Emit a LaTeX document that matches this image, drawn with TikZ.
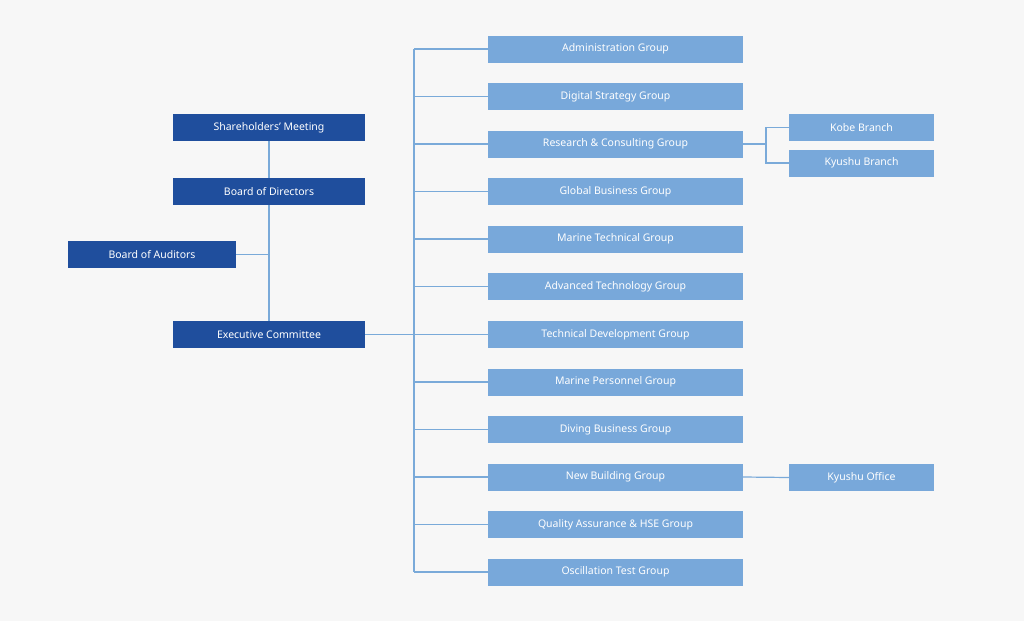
\documentclass[tikz,border=0pt]{standalone}
\usepackage{fontspec}
\setmainfont{Noto Sans}
\usetikzlibrary{positioning}
\definecolor{bgcol}{HTML}{F7F7F7}
\definecolor{darkbox}{HTML}{1F4E9D}
\definecolor{lightbox}{HTML}{78A8DA}
\definecolor{linecol}{HTML}{7AAAD9}
\begin{document}
\begin{tikzpicture}
[
x=1pt, y=-1pt,
head/.style={rectangle, fill=darkbox, text=white, font=\fontsize{10.5}{12}\selectfont\bfseries, minimum height=27pt, minimum width=192pt, inner sep=0pt},
unit/.style={rectangle, fill=lightbox, text=white, font=\fontsize{10.5}{12}\selectfont\bfseries, minimum height=27pt, minimum width=255pt, inner sep=0pt},
branch/.style={unit, minimum width=145pt},
link/.style={draw=linecol, line width=1.2pt},
]
\fill [bgcol] (0,0) rectangle (1024,621);
\node (sm)  [head] at (269,127.5) {Shareholders' Meeting};
\node (bd)  [head] at (269,191.5) {Board of Directors};
\node (ba)  [head, minimum width=168pt] at (152,254.5) {Board of Auditors};
\node (ec)  [head] at (269,334.5) {Executive Committee};
\coordinate (ja) at (269,254.5);
\draw [link] (sm) -- (bd) -- (ec);
\draw [link] (ba) -- (ja);
% trunk
\coordinate (top) at (414,49);
\coordinate (bot) at (414,572);
\draw [link] (top) -- (bot);
\draw [link] (ec.east) -- (414,334.5);
\foreach \name/\txt/\yy in {
  g1/Administration Group/49,
  g2/Digital Strategy Group/96.5,
  g3/Research \& Consulting Group/144,
  g4/Global Business Group/191.5,
  g5/Marine Technical Group/239,
  g6/Advanced Technology Group/286.5,
  g7/Technical Development Group/334.5,
  g8/Marine Personnel Group/382,
  g9/Diving Business Group/429.5,
  g10/New Building Group/477,
  g11/Quality Assurance \& HSE Group/524.5,
  g12/Oscillation Test Group/572}
{
  \node (\name) [unit] at (615.5,\yy) {\txt};
  \draw [link] (414,\yy) -- (\name.west);
}
\node (kb) [branch] at (861.5,127.5) {Kobe Branch};
\node (ky) [branch] at (861.5,163) {Kyushu Branch};
\node (ko) [branch] at (861.5,477.5) {Kyushu Office};
\coordinate (jr) at (766,144);
\draw [link] (g3.east) -- (jr);
\draw [link] (kb.west) -| (jr) |- (ky.west);
\draw [link] (g10.east) -- (ko.west);
\end{tikzpicture}
\end{document}
